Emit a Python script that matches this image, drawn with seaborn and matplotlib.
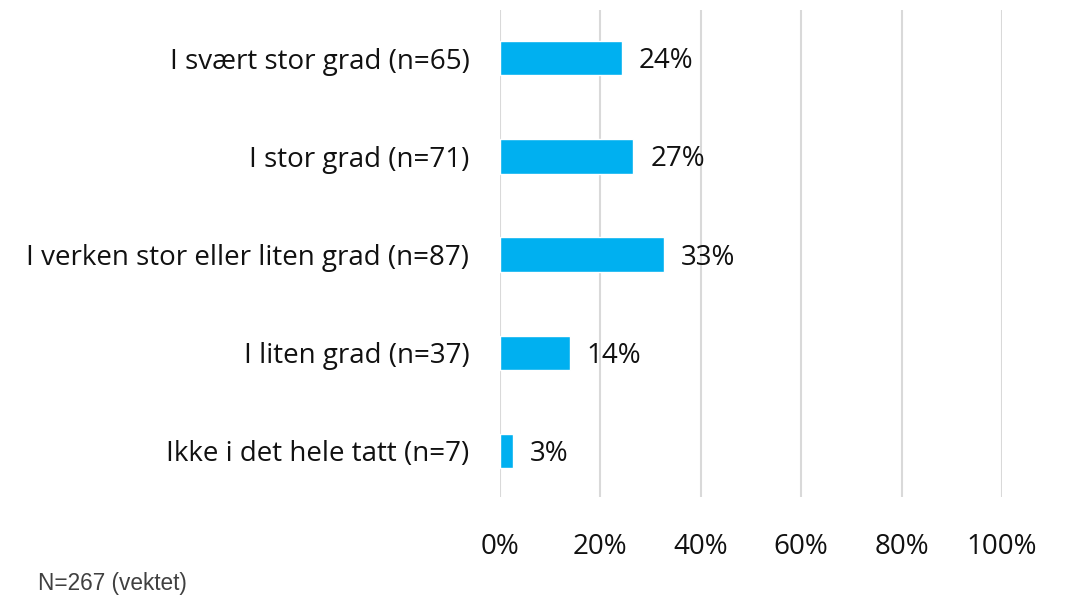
import matplotlib
matplotlib.use("Agg")
import matplotlib.pyplot as plt
import seaborn as sns
import pandas as pd

# Data
categories = ['I svært stor grad (n=65)', 'I stor grad (n=71)',
              'I verken stor eller liten grad (n=87)', 'I liten grad (n=37)',
              'Ikke i det hele tatt (n=7)']
values = [24.3, 26.6, 32.6, 13.9, 2.6]
value_labels = ['24%', '27%', '33%', '14%', '3%']
x_ticks = [0, 20, 40, 60, 80, 100]
x_ticklabels = ['0%', '20%', '40%', '60%', '80%', '100%']

df = pd.DataFrame({'kategori': categories, 'andel': values})

sns.set_style('white')
plt.rcParams['font.family'] = ['Open Sans', 'DejaVu Sans']

fig = plt.figure(figsize=(10.66, 5.97), dpi=100)
ax = fig.add_axes([0.469, 0.1675, 0.4709, 0.8155])

sns.barplot(data=df, y='kategori', x='andel', orient='h', color='#00B0F0',
            saturation=1, width=0.35, ax=ax)

ax.set_xlim(0, 100)
ax.set_ylim(4.47, -0.49)
ax.set_xticks(x_ticks)
ax.set_xticklabels(x_ticklabels, fontsize=20)
ax.tick_params(axis='y', labelsize=20, length=0, pad=22, labelcolor='#111111')
ax.tick_params(axis='x', length=0, pad=26, labelcolor='#111111')
ax.set_xlabel('')
ax.set_ylabel('')
ax.grid(axis='x', color='#D9D9D9', linewidth=1.5)
ax.set_axisbelow(True)
for s in ax.spines.values():
    s.set_visible(False)

for i, (v, lab) in enumerate(zip(values, value_labels)):
    ax.text(v + 3.4, i + 0.03, lab, va='center', ha='left', fontsize=20, color='#111111')

fig.text(0.036, 0.012, 'N=267 (vektet)', fontsize=16.3, color='#404040',
         family=['Liberation Sans', 'DejaVu Sans'])

fig.savefig('out.png', dpi=100)
